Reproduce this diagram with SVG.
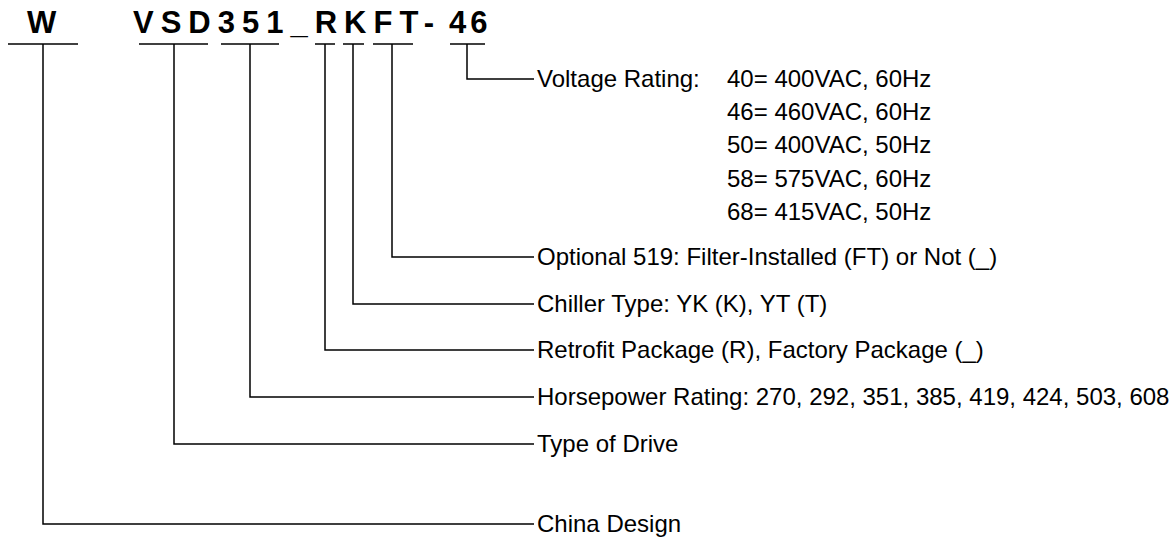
<svg xmlns="http://www.w3.org/2000/svg" width="1173" height="542" viewBox="0 0 1173 542">
<style>
.code{font-family:"Liberation Sans",Arial,sans-serif;font-weight:bold;font-size:31px;fill:#000;letter-spacing:7px}
.lbl{font-family:"Liberation Sans",Arial,sans-serif;font-size:24px;fill:#000}
.ln{stroke:#000;stroke-width:1.5;fill:none}
</style>
<rect width="1173" height="542" fill="#fff"/>
<g id="code">
<text class="code" x="27" y="33">W</text>
<text class="code" x="133" y="33">VSD351_RKFT-</text>
<text class="code" x="449" y="33" style="letter-spacing:4px">46</text>
</g>
<g id="connectors">
<line class="ln" x1="8" y1="44" x2="78" y2="44"/>
<line class="ln" x1="139" y1="44" x2="208" y2="44"/>
<line class="ln" x1="221" y1="44" x2="279" y2="44"/>
<line class="ln" x1="315" y1="44" x2="335" y2="44"/>
<line class="ln" x1="343" y1="44" x2="364" y2="44"/>
<line class="ln" x1="373" y1="44" x2="413" y2="44"/>
<line class="ln" x1="450" y1="44" x2="485" y2="44"/>
<polyline class="ln" points="467,44 467,79 534,79"/>
<polyline class="ln" points="392,44 392,257 534,257"/>
<polyline class="ln" points="353,44 353,304 534,304"/>
<polyline class="ln" points="325,44 325,350 534,350"/>
<polyline class="ln" points="250,44 250,397 534,397"/>
<polyline class="ln" points="174,44 174,444 534,444"/>
<polyline class="ln" points="43,44 43,524 534,524"/>
</g>
<g id="voltage">
<text class="lbl" x="537" y="87">Voltage Rating:</text>
<text class="lbl" x="727" y="87">40= 400VAC, 60Hz</text>
<text class="lbl" x="727" y="120">46= 460VAC, 60Hz</text>
<text class="lbl" x="727" y="153">50= 400VAC, 50Hz</text>
<text class="lbl" x="727" y="187">58= 575VAC, 60Hz</text>
<text class="lbl" x="727" y="220">68= 415VAC, 50Hz</text>
</g>
<g id="filter"><text class="lbl" x="537" y="265">Optional 519: Filter-Installed (FT) or Not (_)</text></g>
<g id="chiller"><text class="lbl" x="537" y="312">Chiller Type: YK (K), YT (T)</text></g>
<g id="package"><text class="lbl" x="537" y="358">Retrofit Package (R), Factory Package (_)</text></g>
<g id="horsepower"><text class="lbl" x="537" y="405">Horsepower Rating: 270, 292, 351, 385, 419, 424, 503, 608</text></g>
<g id="drive"><text class="lbl" x="537" y="452">Type of Drive</text></g>
<g id="china"><text class="lbl" x="537" y="532">China Design</text></g>
</svg>
